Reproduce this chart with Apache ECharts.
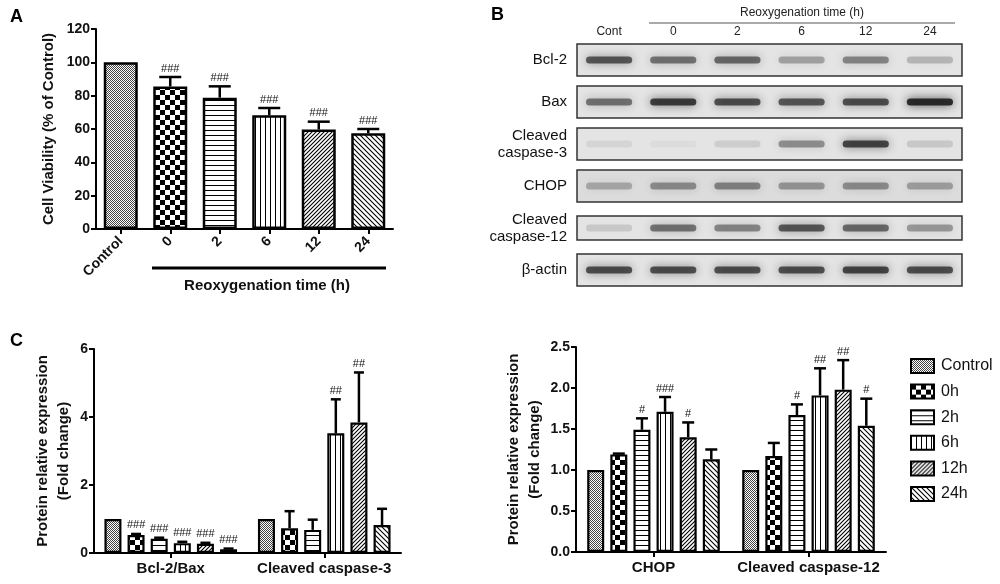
<!DOCTYPE html>
<html>
<head>
<meta charset="utf-8">
<script src="https://cdn.jsdelivr.net/npm/echarts@6/dist/echarts.min.js"></script>
<style>
  html, body { margin: 0; padding: 0; background: #fff; }
  #main { width: 1000px; height: 584px; }
</style>
</head>
<body>
<div id="main"></div>
<script>
// ---- data ----
var groups = ['Control', '0h', '2h', '6h', '12h', '24h'];

// Panel A: cell viability
var viabLabels = ['Control', '0', '2', '6', '12', '24'];
var viabMean = [100, 85.5, 78.8, 68.2, 59.7, 57.4];
var viabSd = [0, 5.7, 6.8, 4.4, 4.7, 2.6];
var viabSig = ['', '###', '###', '###', '###', '###'];

// Panel B: western blot band density (0 = none, 1 = darkest)
var blotLanes = ['Cont', '0', '2', '6', '12', '24'];
var blotRows = ['Bcl-2', 'Bax', 'Cleaved\ncaspase-3', 'CHOP', 'Cleaved\ncaspase-12', 'β-actin'];
var blotDensity = [
    [0.75, 0.6, 0.65, 0.35, 0.5, 0.25],
    [0.6, 0.9, 0.8, 0.75, 0.8, 1.0],
    [0.08, 0.04, 0.12, 0.45, 0.85, 0.15],
    [0.3, 0.45, 0.5, 0.4, 0.45, 0.35],
    [0.15, 0.6, 0.5, 0.75, 0.65, 0.4],
    [0.8, 0.8, 0.8, 0.8, 0.85, 0.8]
];

// Panel C left
var catsL = ['Bcl-2/Bax', 'Cleaved caspase-3'];
var meanL = [[1.0, 1.0], [0.53, 0.73], [0.42, 0.68], [0.29, 3.52], [0.27, 3.84], [0.11, 0.82]];
var sdL = [[0, 0], [0.03, 0.50], [0.03, 0.30], [0.04, 1.00], [0.03, 1.47], [0.02, 0.48]];
var sigL = [['', ''], ['###', ''], ['###', ''], ['###', '##'], ['###', '##'], ['###', '']];

// Panel C right
var catsR = ['CHOP', 'Cleaved caspase-12'];
var meanR = [[1.0, 1.0], [1.19, 1.17], [1.49, 1.67], [1.71, 1.91], [1.40, 1.98], [1.13, 1.54]];
var sdR = [[0, 0], [0.01, 0.16], [0.14, 0.13], [0.18, 0.33], [0.18, 0.36], [0.12, 0.33]];
var sigR = [['', ''], ['', ''], ['#', '#'], ['###', '##'], ['#', '##'], ['', '#']];

// ---- patterns ----
function makePattern(kind) {
    var c = document.createElement('canvas');
    var ctx;
    if (kind === 'dots') {
        c.width = 2; c.height = 2;
        ctx = c.getContext('2d');
        ctx.fillStyle = '#fff'; ctx.fillRect(0, 0, 2, 2);
        ctx.fillStyle = '#444';
        ctx.fillRect(0, 0, 1, 1); ctx.fillRect(1, 1, 1, 1);
    } else if (kind === 'checker') {
        c.width = 10; c.height = 10;
        ctx = c.getContext('2d');
        ctx.fillStyle = '#fff'; ctx.fillRect(0, 0, 10, 10);
        ctx.fillStyle = '#000';
        ctx.fillRect(0, 0, 5, 5); ctx.fillRect(5, 5, 5, 5);
    } else if (kind === 'hline') {
        c.width = 5; c.height = 5;
        ctx = c.getContext('2d');
        ctx.fillStyle = '#fff'; ctx.fillRect(0, 0, 5, 5);
        ctx.fillStyle = '#000'; ctx.fillRect(0, 0, 5, 1);
    } else if (kind === 'vline') {
        c.width = 5; c.height = 5;
        ctx = c.getContext('2d');
        ctx.fillStyle = '#fff'; ctx.fillRect(0, 0, 5, 5);
        ctx.fillStyle = '#000'; ctx.fillRect(0, 0, 1, 5);
    } else {
        var s = kind === 'diag1' ? 4 : 5;
        c.width = s; c.height = s;
        ctx = c.getContext('2d');
        ctx.fillStyle = '#fff'; ctx.fillRect(0, 0, s, s);
        ctx.strokeStyle = '#000'; ctx.lineWidth = 1.1;
        ctx.beginPath();
        if (kind === 'diag1') {
            ctx.moveTo(0, s); ctx.lineTo(s, 0);
            ctx.moveTo(-1, 1); ctx.lineTo(1, -1);
            ctx.moveTo(s - 1, s + 1); ctx.lineTo(s + 1, s - 1);
        } else {
            ctx.moveTo(0, 0); ctx.lineTo(s, s);
            ctx.moveTo(-1, s - 1); ctx.lineTo(1, s + 1);
            ctx.moveTo(s - 1, -1); ctx.lineTo(s + 1, 1);
        }
        ctx.stroke();
    }
    return { image: c, repeat: 'repeat' };
}
var patterns = ['dots', 'checker', 'hline', 'vline', 'diag1', 'diag2'].map(makePattern);

var FONT = '"Liberation Sans", Arial, sans-serif';
var BW = 17;
var PITCH = BW * 1.36;

// error bar with significance text
function errorRenderer(getOffset, cap, lw, sigFont) {
    return function (params, api) {
        var cat = api.value(0), v = api.value(1), hi = api.value(2), g = api.value(3);
        if (!(hi > v)) return null;
        var p0 = api.coord([cat, v]);
        var p1 = api.coord([cat, hi]);
        var x = p0[0] + getOffset(g);
        var sig = params.seriesName === 'errA' ? viabSig[g]
            : (params.seriesName === 'errL' ? sigL[g][cat] : sigR[g][cat]);
        var children = [
            { type: 'line', shape: { x1: x, y1: p0[1], x2: x, y2: p1[1] }, style: { stroke: '#000', lineWidth: lw } },
            { type: 'line', shape: { x1: x - cap, y1: p1[1], x2: x + cap, y2: p1[1] }, style: { stroke: '#000', lineWidth: lw } }
        ];
        if (sig) {
            children.push({ type: 'text', style: { text: sig, x: x, y: p1[1] - 3, align: 'center', verticalAlign: 'bottom', font: sigFont, fill: '#111' } });
        }
        return { type: 'group', children: children };
    };
}

function errData(mean, sd) {
    var out = [];
    for (var g = 0; g < mean.length; g++) {
        for (var c = 0; c < mean[g].length; c++) {
            out.push([c, mean[g][c], mean[g][c] + sd[g][c], g]);
        }
    }
    return out;
}

var axisLineStyle = { show: true, lineStyle: { color: '#000', width: 2 } };
var axisTickStyle = { show: true, length: 5, lineStyle: { color: '#000', width: 2 } };
var boldLabel = { color: '#111', fontFamily: FONT, fontWeight: 'bold', fontSize: 14 };

var chartDom = document.getElementById('main');
var myChart = echarts.init(chartDom, null, { renderer: 'canvas' });

var series = [];

// Panel A bars
series.push({
    type: 'bar', xAxisIndex: 0, yAxisIndex: 0, barWidth: 34, silent: true,
    data: viabMean.map(function (v, i) {
        return { value: v, itemStyle: { color: patterns[i], borderColor: '#000', borderWidth: 2.5 } };
    })
});
series.push({
    type: 'custom', name: 'errA', xAxisIndex: 0, yAxisIndex: 0, z: 5, silent: true,
    renderItem: errorRenderer(function () { return 0; }, 11, 2.5, '11px ' + FONT),
    data: viabMean.map(function (v, i) { return [i, v, v + viabSd[i], i]; })
});

// Panel B blot boxes and bands
var boxData = blotRows.map(function (r, i) { return [0, i]; });
series.push({
    type: 'custom', xAxisIndex: 1, yAxisIndex: 1, z: 1, silent: true,
    renderItem: function (params, api) {
        var row = api.value(1);
        var p = api.coord([0, row]);
        var sz = api.size([1, 1]);
        var h = row === 4 ? 24 : 32;
        return {
            type: 'rect',
            shape: { x: p[0] - sz[0] / 2, y: p[1] - h / 2, width: sz[0] * blotLanes.length, height: h },
            style: { fill: row === 3 ? '#dcdcdc' : '#e4e4e4', stroke: '#333', lineWidth: 1.5 }
        };
    },
    data: boxData
});
var bandData = [];
blotDensity.forEach(function (row, r) {
    row.forEach(function (d, l) { bandData.push([l, r, d]); });
});
series.push({
    type: 'custom', xAxisIndex: 1, yAxisIndex: 1, z: 2, silent: true,
    renderItem: function (params, api) {
        var p = api.coord([api.value(0), api.value(1)]);
        var sz = api.size([1, 1]);
        var d = api.value(2);
        var w = sz[0] * 0.72;
        var h = 7;
        var col = 'rgba(20,20,20,' + (d * 0.85).toFixed(3) + ')';
        return {
            type: 'rect',
            shape: { x: p[0] - w / 2, y: p[1] - h / 2, width: w, height: h, r: h / 2 },
            style: { fill: col, shadowBlur: 10, shadowColor: col }
        };
    },
    data: bandData
});

// Panel C bars
groups.forEach(function (name, g) {
    var style = { color: patterns[g], borderColor: '#000', borderWidth: 2.2 };
    series.push({
        type: 'bar', name: name, xAxisIndex: 2, yAxisIndex: 2, barWidth: BW, barGap: '36%',
        itemStyle: style, data: meanL[g], silent: true
    });
});
groups.forEach(function (name, g) {
    var style = { color: patterns[g], borderColor: '#000', borderWidth: 2.2 };
    series.push({
        type: 'bar', name: name, xAxisIndex: 3, yAxisIndex: 3, barWidth: BW, barGap: '36%',
        itemStyle: style, data: meanR[g], silent: true
    });
});
var offsetFn = function (g) { return (g - (groups.length - 1) / 2) * PITCH; };
series.push({
    type: 'custom', name: 'errL', xAxisIndex: 2, yAxisIndex: 2, z: 5, silent: true,
    renderItem: errorRenderer(offsetFn, 5, 2.5, '11px ' + FONT),
    data: errData(meanL, sdL)
});
series.push({
    type: 'custom', name: 'errR', xAxisIndex: 3, yAxisIndex: 3, z: 5, silent: true,
    renderItem: errorRenderer(offsetFn, 6, 2.5, '11px ' + FONT),
    data: errData(meanR, sdR)
});

var option = {
    animation: false,
    textStyle: { fontFamily: FONT },
    grid: [
        { left: 96, top: 29, width: 297, height: 200 },
        { left: 577, top: 39, width: 385, height: 252 },
        { left: 94, top: 349, width: 307, height: 204 },
        { left: 576, top: 347, width: 310, height: 205 }
    ],
    xAxis: [
        {
            gridIndex: 0, type: 'category', data: viabLabels,
            axisLine: axisLineStyle,
            axisTick: { show: true, alignWithLabel: true, length: 5, lineStyle: { color: '#000', width: 2 } },
            axisLabel: Object.assign({ rotate: 45, margin: 10, interval: 0 }, boldLabel)
        },
        {
            gridIndex: 1, type: 'category', data: blotLanes, position: 'top',
            axisLine: { show: false }, axisTick: { show: false },
            axisLabel: { color: '#222', fontSize: 12, margin: 1, fontFamily: FONT }
        },
        {
            gridIndex: 2, type: 'category', data: catsL,
            axisLine: axisLineStyle,
            axisTick: { show: true, alignWithLabel: true, length: 5, lineStyle: { color: '#000', width: 2 } },
            axisLabel: Object.assign({ margin: 8, interval: 0 }, boldLabel, { fontSize: 15 })
        },
        {
            gridIndex: 3, type: 'category', data: catsR,
            axisLine: axisLineStyle,
            axisTick: { show: true, alignWithLabel: true, length: 5, lineStyle: { color: '#000', width: 2 } },
            axisLabel: Object.assign({ margin: 8, interval: 0 }, boldLabel, { fontSize: 15 })
        }
    ],
    yAxis: [
        {
            gridIndex: 0, type: 'value', min: 0, max: 120, interval: 20,
            name: 'Cell Viability (% of Control)', nameLocation: 'middle', nameGap: 40,
            nameTextStyle: { color: '#111', fontWeight: 'bold', fontSize: 15, fontFamily: FONT },
            axisLine: axisLineStyle, axisTick: axisTickStyle, splitLine: { show: false },
            axisLabel: Object.assign({ margin: 6 }, boldLabel)
        },
        {
            gridIndex: 1, type: 'category', data: blotRows, inverse: true,
            axisLine: { show: false }, axisTick: { show: false },
            axisLabel: { color: '#111', fontSize: 15, margin: 10, lineHeight: 17, fontFamily: FONT }
        },
        {
            gridIndex: 2, type: 'value', min: 0, max: 6, interval: 2,
            name: 'Protein relative expression\n(Fold change)', nameLocation: 'middle', nameGap: 20,
            nameTextStyle: { color: '#111', fontWeight: 'bold', fontSize: 15, lineHeight: 21, fontFamily: FONT },
            axisLine: axisLineStyle, axisTick: axisTickStyle, splitLine: { show: false },
            axisLabel: Object.assign({ margin: 6 }, boldLabel)
        },
        {
            gridIndex: 3, type: 'value', min: 0, max: 2.5, interval: 0.5,
            name: 'Protein relative expression\n(Fold change)', nameLocation: 'middle', nameGap: 31,
            nameTextStyle: { color: '#111', fontWeight: 'bold', fontSize: 15, lineHeight: 21, fontFamily: FONT },
            axisLine: axisLineStyle, axisTick: axisTickStyle, splitLine: { show: false },
            axisLabel: Object.assign({ margin: 6, formatter: function (v) { return v.toFixed(1); } }, boldLabel)
        }
    ],
    legend: {
        data: groups, orient: 'vertical', left: 905, top: 353,
        icon: 'rect', itemWidth: 23, itemHeight: 14, itemGap: 9.6,
        selectedMode: false,
        textStyle: { color: '#111', fontSize: 16, fontFamily: FONT, padding: [0, 0, 0, 2] }
    },
    graphic: [
        { type: 'text', left: 10, top: 8, style: { text: 'A', font: 'bold 18px ' + FONT, fill: '#000' } },
        { type: 'text', left: 491, top: 6, style: { text: 'B', font: 'bold 18px ' + FONT, fill: '#000' } },
        { type: 'text', left: 10, top: 332, style: { text: 'C', font: 'bold 18px ' + FONT, fill: '#000' } },
        { type: 'line', shape: { x1: 152, y1: 268, x2: 386, y2: 268 }, style: { stroke: '#000', lineWidth: 3 } },
        { type: 'text', x: 267, y: 286, style: { text: 'Reoxygenation time (h)', align: 'center', verticalAlign: 'middle', font: 'bold 15px ' + FONT, fill: '#111' } },
        { type: 'line', shape: { x1: 649, y1: 23, x2: 955, y2: 23 }, style: { stroke: '#555', lineWidth: 1 } },
        { type: 'text', x: 802, y: 13, style: { text: 'Reoxygenation time (h)', align: 'center', verticalAlign: 'middle', font: '12px ' + FONT, fill: '#222' } }
    ],
    series: series
};

myChart.setOption(option);
</script>
</body>
</html>
